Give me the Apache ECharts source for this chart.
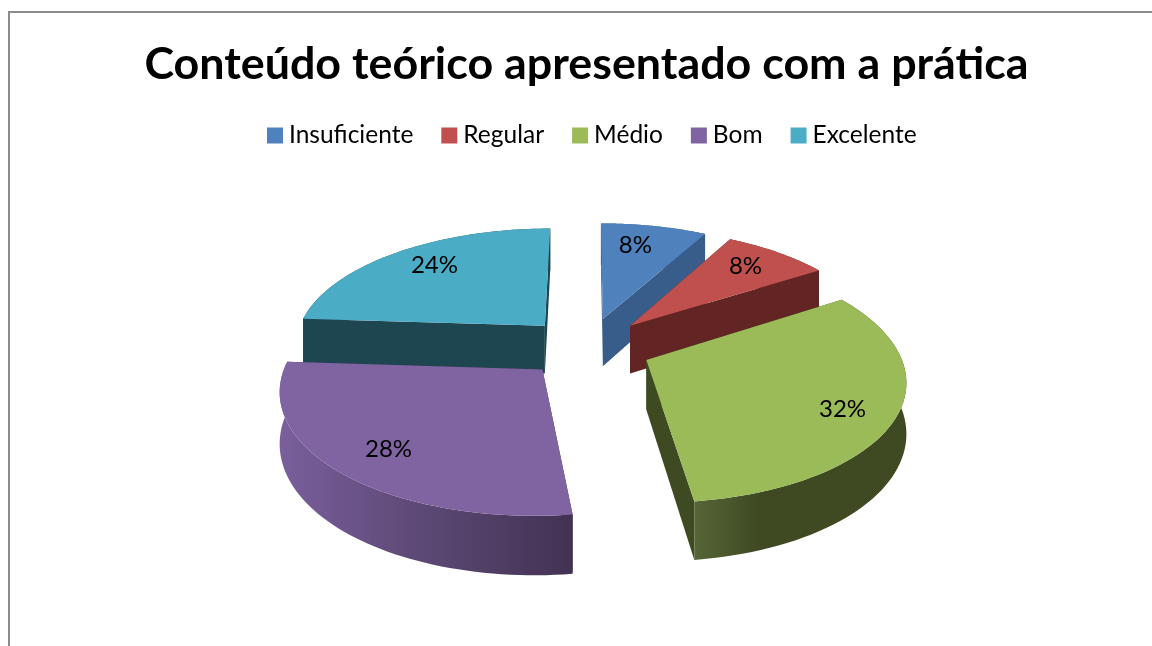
<!DOCTYPE html>
<html>
<head>
<meta charset="utf-8">
<style>html,body{margin:0;padding:0;background:#fff}#c{width:1152px;height:646px}</style>
<script src="https://cdn.jsdelivr.net/npm/echarts@6/dist/echarts.min.js"></script>
</head>
<body>
<div id="c"></div>
<script>
const categories = ['Insuficiente', 'Regular', 'Médio', 'Bom', 'Excelente'];
const shares = [8, 8, 32, 28, 24];
const topColors = ['#4F81BD', '#C0504D', '#9BBB59', '#8064A2', '#4BACC6'];
const faceColors = ['#385D8A', '#632523', '#3E4A22', '#4A3A60', '#1E4650'];
const wallStops = [
  [[0, '#385D8A'], [1, '#385D8A']],
  [[0, '#632523'], [1, '#632523']],
  [[0, '#566636'], [0.3, '#3F4A23'], [1, '#3F4A23']],
  [[0, '#7A5F9C'], [0.45, '#5E4A78'], [1, '#423252']],
  [[0, '#1E4650'], [1, '#1E4650']]
];
const labelNudge = [[-7, -2], [2, -3], [11, 9], [-5, 6], [3, -4]];

const CX = 587.5, CY = 347, R = 251.5, EXPLODE = 64, TILT = 0.467, DIST = 1700, HEIGHT = 49, LABEL_R = 0.75;
const total = shares.reduce((a, b) => a + b, 0);
const rad = p => p / total * Math.PI * 2;
let acc = 0;
const spans = shares.map(v => { const s = [rad(acc), rad(acc + v)]; acc += v; return s; });

function project(u, v, drop) {
  const s = DIST / (DIST - v);
  return [CX + u * s, CY + TILT * v * s + drop * s];
}
function sliceItem(i) {
  return function (params, api) {
    const [a0, a1] = spans[i];
    const mid = (a0 + a1) / 2;
    const ex = EXPLODE * Math.sin(mid), ey = -EXPLODE * Math.cos(mid);
    const at = (ang, r, drop) => project(ex + r * Math.sin(ang), ey - r * Math.cos(ang), drop);
    const steps = 60;
    const rimTop = [], rimBot = [];
    for (let k = 0; k <= steps; k++) {
      const ang = a0 + (a1 - a0) * k / steps;
      rimTop.push(at(ang, R, 0));
      rimBot.push(at(ang, R, HEIGHT));
    }
    const apexTop = at(0, 0, 0), apexBot = at(0, 0, HEIGHT);
    const poly = (points, fill) => ({ type: 'polygon', shape: { points }, style: { fill, stroke: null } });
    const face0 = [apexTop, rimTop[0], rimBot[0], apexBot];
    const face1 = [apexTop, rimTop[steps], rimBot[steps], apexBot];
    const wall = rimTop.concat(rimBot.slice().reverse());
    const gradient = new echarts.graphic.LinearGradient(0, 0, 1, 0,
      wallStops[i].map(s => ({ offset: s[0], color: s[1] })));
    const top = [apexTop].concat(rimTop);
    const lab = at(mid, R * LABEL_R, 0);
    return {
      type: 'group',
      children: [
        poly(face0, faceColors[i]),
        poly(face1, faceColors[i]),
        poly(wall, gradient),
        poly(top, topColors[i]),
        {
          type: 'text',
          style: {
            x: lab[0] + labelNudge[i][0], y: lab[1] + labelNudge[i][1],
            text: api.value(0) + '%',
            fill: '#000',
            font: '24px Lato',
            align: 'center',
            verticalAlign: 'middle'
          }
        }
      ]
    };
  };
}

const chart = echarts.init(document.getElementById('c'), null, { renderer: 'canvas' });
chart.setOption({
  animation: false,
  backgroundColor: '#fff',
  title: {
    text: 'Conteúdo teórico apresentado com a prática',
    left: 581.5, top: 37, textAlign: 'center',
    textStyle: { fontFamily: 'Lato', fontWeight: 'bold', fontSize: 44.8, color: '#000' }
  },
  legend: {
    data: categories,
    left: 262, top: 118,
    icon: 'rect', itemWidth: 16, itemHeight: 16, itemGap: 28,
    textStyle: { fontFamily: 'Lato', fontSize: 24.5, color: '#000', padding: [0, 0, 0, 1] }
  },
  graphic: [{
    type: 'polyline',
    shape: { points: [[9, 646], [9, 12], [1152, 12]] },
    style: { stroke: '#8C8C8C', lineWidth: 2, fill: null },
    silent: true
  }],
  series: categories.map((name, i) => ({
    type: 'custom',
    name,
    coordinateSystem: 'none',
    z: 5 - Math.cos((spans[i][0] + spans[i][1]) / 2),
    itemStyle: { color: topColors[i] },
    renderItem: sliceItem(i),
    data: [{ name, value: [shares[i]] }]
  }))
});
</script>
</body>
</html>
